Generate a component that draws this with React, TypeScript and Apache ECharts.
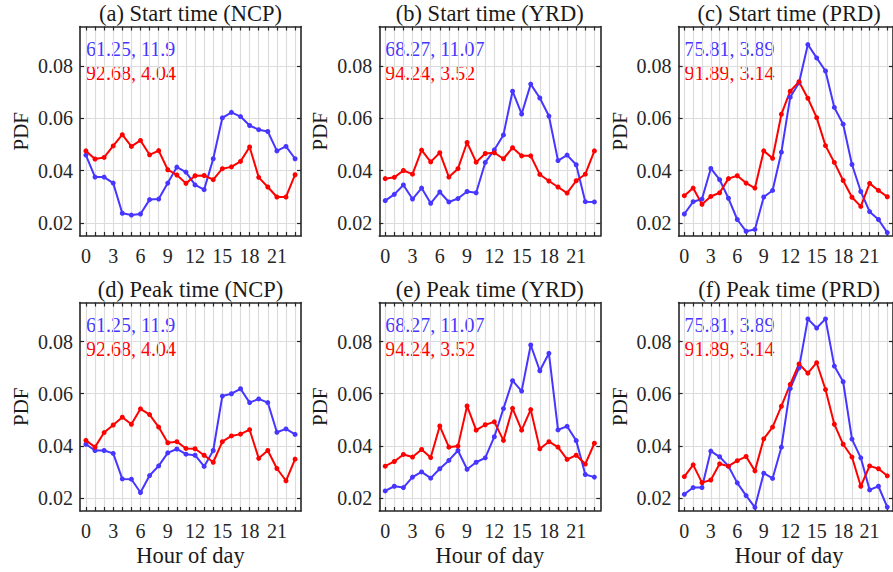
import React, { useEffect, useRef } from "react";
import * as echarts from "echarts";

const hours = [0, 1, 2, 3, 4, 5, 6, 7, 8, 9, 10, 11, 12, 13, 14, 15, 16, 17, 18, 19, 20, 21, 22, 23];
const xTickLabels = [0, 3, 6, 9, 12, 15, 18, 21];
const yTicks = [0.02, 0.04, 0.06, 0.08];

const titles = [
  "(a) Start time (NCP)",
  "(b) Start time (YRD)",
  "(c) Start time (PRD)",
  "(d) Peak time (NCP)",
  "(e) Peak time (YRD)",
  "(f) Peak time (PRD)",
];
const blueNotes = ["61.25, 11.9", "68.27, 11.07", "75.81, 3.89", "61.25, 11.9", "68.27, 11.07", "75.81, 3.89"];
const redNotes = ["92.68, 4.04", "94.24, 3.52", "91.89, 3.14", "92.68, 4.04", "94.24, 3.52", "91.89, 3.14"];

const blueA = [0.0459, 0.0375, 0.0375, 0.0352, 0.0237, 0.023, 0.0234, 0.0289, 0.0291, 0.0352, 0.0413, 0.0394, 0.0345, 0.0327, 0.0445, 0.0601, 0.0622, 0.0606, 0.0572, 0.0556, 0.0549, 0.0475, 0.0492, 0.0445];
const redA = [0.0475, 0.0444, 0.045, 0.0494, 0.0537, 0.0492, 0.0515, 0.046, 0.0476, 0.0403, 0.0383, 0.0351, 0.038, 0.0381, 0.0365, 0.0407, 0.0414, 0.0435, 0.049, 0.0374, 0.0337, 0.0299, 0.0299, 0.0384];
const blueB = [0.0285, 0.0309, 0.0345, 0.0291, 0.0333, 0.0275, 0.0318, 0.028, 0.0293, 0.032, 0.0315, 0.0431, 0.0479, 0.0536, 0.0703, 0.0616, 0.073, 0.0677, 0.0608, 0.0438, 0.0459, 0.0422, 0.0281, 0.028];
const redB = [0.0369, 0.0374, 0.04, 0.0386, 0.0478, 0.0433, 0.0468, 0.0375, 0.0407, 0.0507, 0.0432, 0.0465, 0.0468, 0.0445, 0.0487, 0.0456, 0.0456, 0.0385, 0.036, 0.0337, 0.0314, 0.0361, 0.0386, 0.0475];
const blueC = [0.0234, 0.0281, 0.0291, 0.0408, 0.0365, 0.0294, 0.0213, 0.0168, 0.0175, 0.0299, 0.0324, 0.047, 0.068, 0.0735, 0.0881, 0.083, 0.078, 0.0641, 0.0577, 0.0423, 0.032, 0.0243, 0.0213, 0.0163];
const redC = [0.0304, 0.0333, 0.0271, 0.0301, 0.0315, 0.0369, 0.038, 0.0352, 0.0333, 0.0475, 0.0447, 0.0615, 0.0703, 0.0739, 0.0676, 0.0602, 0.0495, 0.0431, 0.0362, 0.0298, 0.0263, 0.0351, 0.0324, 0.03];
const blueD = [0.0406, 0.0382, 0.0382, 0.0371, 0.0273, 0.0272, 0.0221, 0.0286, 0.0323, 0.0373, 0.0388, 0.0368, 0.0364, 0.0321, 0.0382, 0.0591, 0.06, 0.0619, 0.0566, 0.058, 0.0566, 0.0452, 0.0465, 0.0444];
const redD = [0.0421, 0.0395, 0.0451, 0.048, 0.051, 0.0483, 0.0542, 0.052, 0.0472, 0.0412, 0.0416, 0.039, 0.0389, 0.0364, 0.0337, 0.0416, 0.0438, 0.0445, 0.0462, 0.0352, 0.0382, 0.0313, 0.0266, 0.0349];
const blueE = [0.0227, 0.0245, 0.024, 0.028, 0.03, 0.0276, 0.0312, 0.0344, 0.0382, 0.031, 0.0337, 0.0354, 0.0435, 0.0543, 0.065, 0.061, 0.0787, 0.0688, 0.0755, 0.0461, 0.0475, 0.042, 0.029, 0.028];
const redE = [0.0322, 0.034, 0.0367, 0.0357, 0.0386, 0.0355, 0.0476, 0.0395, 0.0399, 0.0553, 0.046, 0.0481, 0.0492, 0.0421, 0.0544, 0.046, 0.0539, 0.0389, 0.0416, 0.0395, 0.0348, 0.0364, 0.033, 0.041];
const blueF = [0.0214, 0.024, 0.024, 0.038, 0.0358, 0.0322, 0.0258, 0.0209, 0.0164, 0.0295, 0.0275, 0.0395, 0.062, 0.0699, 0.0887, 0.0852, 0.0887, 0.0706, 0.0646, 0.0426, 0.0354, 0.0231, 0.0245, 0.0165];
const redF = [0.0282, 0.0327, 0.0259, 0.0269, 0.0331, 0.0322, 0.0343, 0.0359, 0.0304, 0.0427, 0.0472, 0.0552, 0.0636, 0.0714, 0.0679, 0.0719, 0.0616, 0.0483, 0.0406, 0.0357, 0.0245, 0.0323, 0.0312, 0.0285];

const blueSeries = [blueA, blueB, blueC, blueD, blueE, blueF];
const redSeries = [redA, redB, redC, redD, redE, redF];

const BLUE = "#4636FF";
const RED = "#FF0000";
const AXIS = "#262626";
const GRID = "#dcdcdc";
const FONT = "Liberation Serif";

const LEFTS = [80, 379.3, 678.6];
const TOPS = [26.5, 302.5];
const HEIGHTS = [209.5, 208.5];
const WIDTH = 221;

export default function App() {
  const ref = useRef<HTMLDivElement>(null);
  useEffect(() => {
    if (!ref.current) return;
    const chart = echarts.init(ref.current, null, { renderer: "svg" });
    const grids: any[] = [];
    const xAxes: any[] = [];
    const yAxes: any[] = [];
    const series: any[] = [];
    const graphics: any[] = [];

    for (let i = 0; i < 6; i++) {
      const r = Math.floor(i / 3);
      const c = i % 3;
      const left = LEFTS[c];
      const top = TOPS[r];
      const height = HEIGHTS[r];
      grids.push({ left, top, width: WIDTH, height, containLabel: false });
      const lineStyle = { color: AXIS, width: 1.6 };
      xAxes.push({
        type: "value",
        gridIndex: i,
        position: "bottom",
        min: -0.65,
        max: 23.65,
        axisLine: { show: true, onZero: false, lineStyle },
        axisTick: { show: true, inside: true, length: 4, customValues: hours, lineStyle: { color: AXIS, width: 1.2 } },
        axisLabel: {
          show: true,
          customValues: xTickLabels,
          margin: 10,
          fontSize: 20,
          fontFamily: FONT,
          color: AXIS,
        },
        splitLine: { show: true, lineStyle: { color: GRID, width: 1.2 } },
      });
      xAxes.push({
        type: "value",
        gridIndex: i,
        position: "top",
        min: -0.65,
        max: 23.65,
        axisLine: { show: true, onZero: false, lineStyle },
        axisTick: { show: true, inside: true, length: 4, customValues: hours, lineStyle: { color: AXIS, width: 1.2 } },
        axisLabel: { show: false },
        splitLine: { show: false },
      });
      yAxes.push({
        type: "value",
        gridIndex: i,
        position: "left",
        min: 0.015,
        max: 0.095,
        axisLine: { show: true, onZero: false, lineStyle },
        axisTick: { show: true, inside: true, length: 4, customValues: yTicks, lineStyle: { color: AXIS, width: 1.2 } },
        axisLabel: {
          show: true,
          customValues: yTicks,
          margin: 7,
          fontSize: 20,
          fontFamily: FONT,
          color: AXIS,
          formatter: (v: number) => v.toFixed(2),
        },
        splitLine: { show: true, lineStyle: { color: GRID, width: 1.2 } },
      });
      yAxes.push({
        type: "value",
        gridIndex: i,
        position: "right",
        min: 0.015,
        max: 0.095,
        axisLine: { show: true, onZero: false, lineStyle },
        axisTick: { show: true, inside: true, length: 4, customValues: yTicks, lineStyle: { color: AXIS, width: 1.2 } },
        axisLabel: { show: false },
        splitLine: { show: false },
      });

      const pairs: [number[], string][] = [
        [blueSeries[i], BLUE],
        [redSeries[i], RED],
      ];
      pairs.forEach(([vals, color]) => {
        series.push({
          type: "line",
          xAxisIndex: 2 * i,
          yAxisIndex: 2 * i,
          data: hours.map((h, k) => [h, vals[k]]),
          symbol: "circle",
          symbolSize: 5,
          showSymbol: true,
          lineStyle: { color, width: 2 },
          itemStyle: { color },
          clip: true,
          silent: true,
        });
      });

      const textStyle = (text: string, size: number, fill: string, align: string, valign: string) => ({
        text,
        fontSize: size,
        fontFamily: FONT,
        fill,
        textAlign: align,
        textVerticalAlign: valign,
        align,
        verticalAlign: valign,
      });

      graphics.push({
        type: "text",
        x: left + WIDTH / 2,
        y: top - 13.5,
        style: textStyle(titles[i], 22.5, "#1a1a1a", "center", "middle"),
      });
      graphics.push({
        type: "text",
        x: left - 59,
        y: top + height / 2,
        rotation: Math.PI / 2,
        style: textStyle("PDF", 21, "#1a1a1a", "center", "middle"),
      });
      graphics.push({
        type: "text",
        x: left + 6,
        y: top + 22,
        style: textStyle(blueNotes[i], 20, BLUE, "left", "middle"),
      });
      graphics.push({
        type: "text",
        x: left + 6,
        y: top + 46,
        style: textStyle(redNotes[i], 20, RED, "left", "middle"),
      });
      if (r === 1) {
        graphics.push({
          type: "text",
          x: left + WIDTH / 2,
          y: 555,
          style: textStyle("Hour of day", 22.5, "#1a1a1a", "center", "middle"),
        });
      }
    }

    chart.setOption({
      animation: false,
      backgroundColor: "#ffffff",
      grid: grids,
      xAxis: xAxes,
      yAxis: yAxes,
      series,
      graphic: { elements: graphics },
    });
    return () => chart.dispose();
  }, []);

  return (
    <div
      ref={ref}
      style={{ position: "fixed", left: 0, top: 0, width: 893, height: 572, background: "#fff" }}
    />
  );
}
